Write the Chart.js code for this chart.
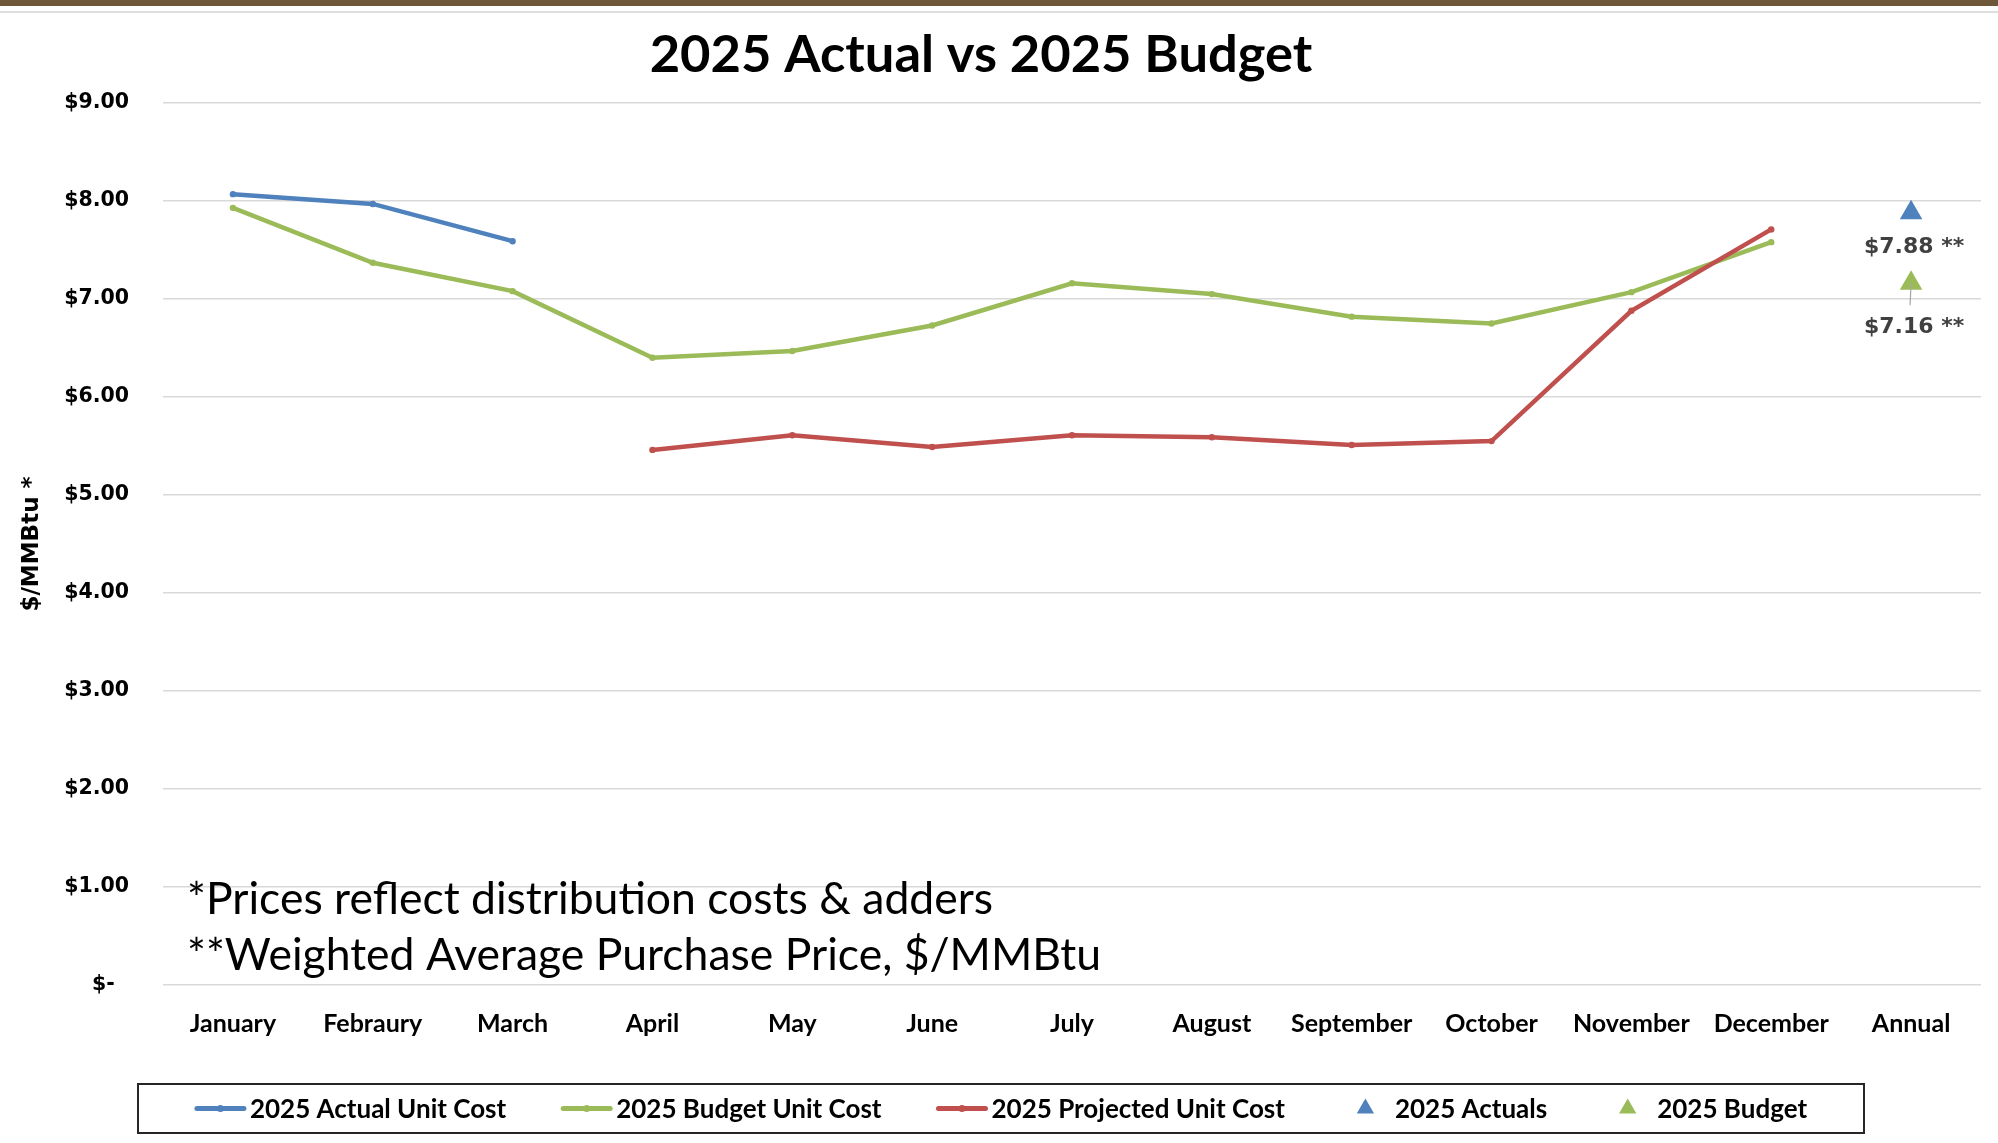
<!DOCTYPE html>
<html>
<head>
<meta charset="utf-8">
<title>2025 Actual vs 2025 Budget</title>
<script src="https://cdn.jsdelivr.net/npm/chart.js@4.4.1/dist/chart.umd.min.js"></script>
<style>
  html, body { margin: 0; padding: 0; background: #ffffff; overflow: hidden; width: 1998px; height: 1143px; }
  #topbar { position: absolute; left: 0; top: 0; width: 1998px; height: 6px; background: #6f583a; z-index: 2; }
  #topline { position: absolute; left: 0; top: 11px; width: 1998px; height: 2px; background: #dedede; z-index: 2; }
  #wrap { position: absolute; left: -35px; top: 0; width: 2033px; height: 1143px; }
</style>
</head>
<body>
<div id="topbar"></div>
<div id="topline"></div>
<div id="wrap"><canvas id="chart"></canvas></div>
<script>
// Month categories plus the annual column
const categories = ['January', 'Febraury', 'March', 'April', 'May', 'June', 'July',
  'August', 'September', 'October', 'November', 'December', 'Annual'];

// Unit costs, $/MMBtu
const actualUnitCost    = [8.07, 7.97, 7.59, null, null, null, null, null, null, null, null, null, null];
const budgetUnitCost    = [7.93, 7.37, 7.08, 6.40, 6.47, 6.73, 7.16, 7.05, 6.82, 6.75, 7.07, 7.58, null];
const projectedUnitCost = [null, null, null, 5.46, 5.61, 5.49, 5.61, 5.59, 5.51, 5.55, 6.88, 7.71, null];

// Weighted average purchase price for the year
const annualActual = [null, null, null, null, null, null, null, null, null, null, null, null, 7.88];
const annualBudget = [null, null, null, null, null, null, null, null, null, null, null, null, 7.16];

// Y axis range and ticks
const yMin = 0, yMax = 9, yStep = 1;

const footnotes = ['*Prices reflect distribution costs & adders',
  '**Weighted Average Purchase Price, $/MMBtu'];

const BLUE = '#4f81bd', GREEN = '#9bbb59', RED = '#c0504d';

// Value labels under the annual triangles
const annualLabels = {
  id: 'annualLabels',
  afterDatasetsDraw(chart) {
    const ctx = chart.ctx;
    ctx.save();
    chart.data.datasets.forEach((ds, i) => {
      if (ds.labelOffset === undefined) return;
      const meta = chart.getDatasetMeta(i);
      meta.data.forEach((pt, j) => {
        const v = ds.data[j];
        if (v === null || v === undefined) return;
        const ly = pt.y + ds.labelOffset;
        if (ds.leaderLine) {
          ctx.strokeStyle = '#a6a6a6';
          ctx.lineWidth = 1.2;
          ctx.beginPath();
          ctx.moveTo(pt.x, pt.y);
          ctx.lineTo(pt.x - 1, ly - 22);
          ctx.stroke();
        }
        ctx.font = 'bold 22px "DejaVu Sans"';
        ctx.fillStyle = '#404040';
        ctx.textAlign = 'center';
        ctx.textBaseline = 'middle';
        ctx.fillText('$' + v.toFixed(2) + ' **', pt.x + 3, ly);
      });
    });
    ctx.restore();
  }
};

// Footnote lines inside the plot area
const footnotePlugin = {
  id: 'footnotes',
  afterDraw(chart) {
    const {ctx, chartArea} = chart;
    ctx.save();
    ctx.font = '44.5px Lato';
    ctx.fillStyle = '#000000';
    ctx.textAlign = 'left';
    ctx.textBaseline = 'middle';
    ctx.fillText(footnotes[0], chartArea.left + 24, chartArea.bottom - 85);
    ctx.fillText(footnotes[1], chartArea.left + 24, chartArea.bottom - 29);
    ctx.restore();
  }
};

// Boxed legend along the bottom
const legendBox = {
  id: 'legendBox',
  afterDraw(chart, args, opts) {
    const ctx = chart.ctx;
    const b = opts.box;
    ctx.save();
    ctx.font = 'bold 26px Lato';
    const items = chart.data.datasets.map(ds => ({
      ds, w: opts.sampleWidth + opts.textGap + ctx.measureText(ds.label).width
    }));
    const total = items.reduce((a, it) => a + it.w, 0) + opts.itemGap * (items.length - 1);
    let x = b.left + (b.width - total) / 2;
    const cy = b.top + b.height / 2;
    ctx.lineWidth = 2;
    ctx.strokeStyle = '#262626';
    ctx.strokeRect(b.left, b.top, b.width, b.height);
    items.forEach(({ds, w}) => {
      const col = ds.pointStyle === 'triangle' ? ds.backgroundColor : ds.borderColor;
      const cx = x + opts.sampleWidth / 2;
      ctx.fillStyle = col;
      ctx.strokeStyle = col;
      if (ds.pointStyle === 'triangle') {
        const r = 10;
        ctx.beginPath();
        ctx.moveTo(cx, cy - r);
        ctx.lineTo(cx + r * Math.sqrt(3) / 2, cy + r / 2);
        ctx.lineTo(cx - r * Math.sqrt(3) / 2, cy + r / 2);
        ctx.closePath();
        ctx.fill();
      } else {
        ctx.lineWidth = 5;
        ctx.lineCap = 'round';
        ctx.beginPath();
        ctx.moveTo(x + 2, cy);
        ctx.lineTo(x + opts.sampleWidth - 2, cy);
        ctx.stroke();
        ctx.beginPath();
        ctx.arc(cx, cy, 3.5, 0, Math.PI * 2);
        ctx.fill();
      }
      ctx.fillStyle = '#000000';
      ctx.textAlign = 'left';
      ctx.textBaseline = 'middle';
      ctx.fillText(ds.label, x + opts.sampleWidth + opts.textGap, cy + 1);
      x += w + opts.itemGap;
    });
    ctx.restore();
  }
};

function lineSeries(label, data, color, order) {
  return {
    label, data, order,
    borderColor: color,
    backgroundColor: color,
    borderWidth: 4.5,
    pointRadius: 3.2,
    pointHoverRadius: 3.2,
    pointBorderWidth: 0,
    spanGaps: false,
    tension: 0
  };
}

function draw() {
  new Chart(document.getElementById('chart'), {
    type: 'line',
    data: {
      labels: categories,
      datasets: [
        lineSeries('2025 Actual Unit Cost', actualUnitCost, BLUE, 1),
        lineSeries('2025 Budget Unit Cost', budgetUnitCost, GREEN, 3),
        lineSeries('2025 Projected Unit Cost', projectedUnitCost, RED, 2),
        {
          label: '2025 Actuals', data: annualActual, showLine: false,
          pointStyle: 'triangle', pointRadius: 13, pointHoverRadius: 13, pointBorderWidth: 0,
          backgroundColor: BLUE, borderColor: BLUE, labelOffset: 35, leaderLine: false, order: 0
        },
        {
          label: '2025 Budget', data: annualBudget, showLine: false,
          pointStyle: 'triangle', pointRadius: 13, pointHoverRadius: 13, pointBorderWidth: 0,
          backgroundColor: GREEN, borderColor: GREEN, labelOffset: 44, leaderLine: true, order: 0
        }
      ]
    },
    options: {
      responsive: true,
      maintainAspectRatio: false,
      animation: false,
      events: [],
      layout: { padding: { top: 8, left: 16, right: 17, bottom: 88 } },
      scales: {
        x: {
          type: 'category',
          offset: true,
          grid: { display: false },
          border: { display: false },
          ticks: {
            font: { family: 'Lato', weight: 'bold', size: 25 },
            color: '#000000', padding: 16, maxRotation: 0, autoSkip: false
          },
          afterFit(s) { s.height = 70; }
        },
        y: {
          min: yMin, max: yMax,
          ticks: {
            stepSize: yStep,
            font: { family: 'DejaVu Sans', weight: 'bold', size: 20.5 },
            color: '#000000', padding: 34,
            callback: v => v === 0 ? '$-  ' : '$' + Number(v).toFixed(2)
          },
          grid: { color: '#d9d9d9', lineWidth: 1.5, drawTicks: false },
          border: { display: false },
          title: {
            display: true, text: '$/MMBtu *',
            font: { family: 'DejaVu Sans', weight: 'bold', size: 23 },
            color: '#000000', padding: { top: 37, bottom: 0 }
          },
          afterFit(s) { s.width = 182; }
        }
      },
      plugins: {
        legend: { display: false },
        tooltip: { enabled: false },
        title: {
          display: true,
          text: '2025 Actual vs 2025 Budget',
          font: { family: 'Lato', weight: 'bold', size: 52.5 },
          color: '#000000',
          padding: { top: 16, bottom: 16 }
        },
        legendBox: {
          box: { left: 173, top: 1084, width: 1726, height: 49 },
          sampleWidth: 51, textGap: 4, itemGap: 55
        }
      }
    },
    plugins: [annualLabels, footnotePlugin, legendBox]
  });
}

const fontLoads = ['bold 52px Lato', '44px Lato', 'bold 26px Lato', 'bold 20px "DejaVu Sans"']
  .map(f => document.fonts.load(f).catch(() => null));
Promise.all(fontLoads).then(draw, draw);
</script>
</body>
</html>
